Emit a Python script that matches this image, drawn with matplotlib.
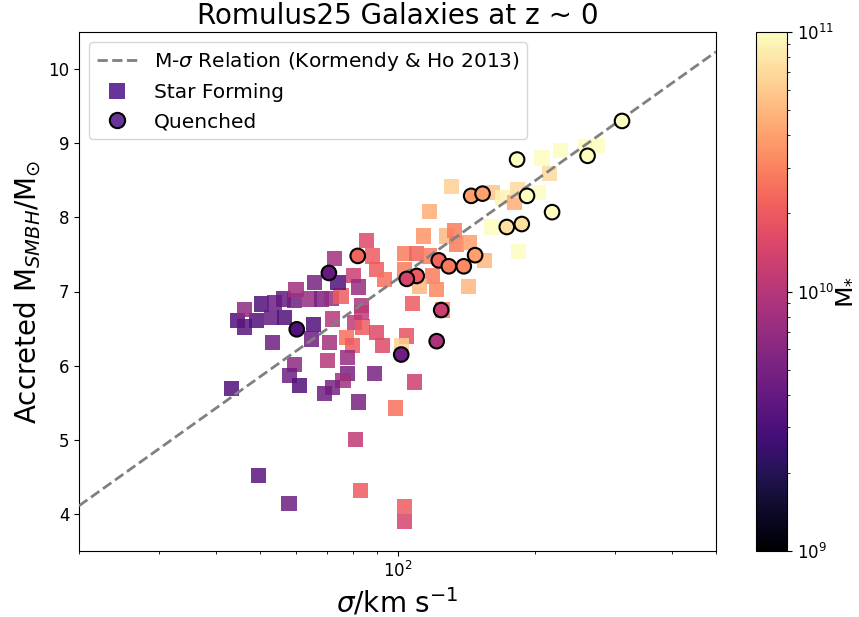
import numpy as np
import matplotlib
matplotlib.use("Agg")
import matplotlib.pyplot as plt
from matplotlib.colors import LogNorm
from matplotlib.lines import Line2D

# Star-forming galaxies: velocity dispersion (km/s), log accreted BH mass, log stellar mass
sf_sigma = [43.2, 49.6, 57.8, 80.8, 83.0, 103.8, 103.8, 98.8, 108.9,
            44.5, 46.2, 49.0, 46.2, 50.3, 52.8, 53.7, 56.1, 56.5, 59.4,
            64.1, 68.0, 71.6, 75.2, 65.5, 72.1, 53.1, 64.7, 71.0, 77.2,
            59.9, 65.8, 72.8, 74.0, 80.2, 82.2, 83.3, 80.5, 83.9, 89.8,
            92.8, 79.8, 70.2, 77.8, 59.4, 58.0, 61.0, 77.8, 75.9, 72.1,
            69.2, 82.2, 89.0, 83.3,
            85.4, 88.3, 89.8, 93.6,
            103.6, 109.9, 117.5, 103.6, 119.5, 121.6, 111.7, 108.0, 125.7,
            104.5, 101.9, 114.2, 127.9, 133.4, 134.5, 143.8, 155.1, 143.3,
            117.5, 131.2, 161.8, 170.2, 180.6, 183.7, 204.0, 215.4, 160.5,
            184.6, 207.6, 227.5, 259.2, 274.8]
sf_logmbh = [5.69, 4.52, 4.14, 5.00, 4.32, 4.10, 3.90, 5.43, 5.78,
             6.61, 6.52, 6.61, 6.76, 6.83, 6.65, 6.85, 6.90, 6.65, 6.88,
             6.90, 6.90, 6.91, 6.94, 6.56, 6.63, 6.31, 6.36, 6.31, 6.38,
             7.03, 7.12, 7.44, 7.12, 7.22, 7.06, 6.81, 6.58, 6.52, 6.45,
             6.27, 6.27, 6.07, 6.11, 6.02, 5.87, 5.73, 5.89, 5.80, 5.71,
             5.62, 5.51, 5.89, 6.72,
             7.69, 7.48, 7.30, 7.16,
             7.51, 7.51, 7.48, 7.30, 7.21, 7.03, 7.07, 6.84, 6.75,
             6.40, 6.27, 7.75, 7.75, 7.82, 7.64, 7.66, 7.42, 7.07,
             8.08, 8.42, 8.34, 8.27, 8.20, 8.37, 8.33, 8.59, 7.87,
             7.54, 8.80, 8.90, 8.95, 8.97]
sf_logmstar = [9.50, 9.55, 9.65, 10.05, 10.30, 10.30, 10.15, 10.40, 10.10,
               9.50, 9.55, 9.50, 9.80, 9.50, 9.60, 9.65, 9.60, 9.50, 9.65,
               9.85, 9.70, 9.85, 10.30, 9.50, 10.00, 9.65, 9.65, 9.90, 10.40,
               9.90, 9.70, 9.90, 9.50, 10.10, 9.85, 9.95, 10.05, 10.30, 10.20,
               10.20, 10.30, 10.00, 9.85, 9.80, 9.65, 9.50, 9.70, 9.90, 9.70,
               9.65, 9.70, 9.70, 10.05,
               10.20, 10.30, 10.30, 10.40,
               10.45, 10.35, 10.45, 10.45, 10.45, 10.50, 10.70, 10.30, 10.45,
               10.25, 10.80, 10.55, 10.70, 10.45, 10.45, 10.60, 10.70, 10.70,
               10.65, 10.80, 10.75, 10.95, 10.65, 10.85, 11.00, 10.85, 11.00,
               11.00, 11.00, 11.00, 11.00, 11.00]

# Quenched galaxies
q_sigma = [311.0, 261.3, 183.0, 192.4, 218.4, 173.7, 187.4, 145.1, 153.7,
           148.0, 123.2, 129.6, 139.8, 110.2, 104.8, 124.7, 121.9, 101.9,
           81.8, 70.7, 60.1]
q_logmbh = [9.30, 8.83, 8.78, 8.29, 8.07, 7.87, 7.91, 8.29, 8.32,
            7.49, 7.42, 7.34, 7.34, 7.21, 7.17, 6.75, 6.33, 6.15,
            7.48, 7.25, 6.49]
q_logmstar = [11.00, 11.00, 11.00, 11.00, 11.00, 10.87, 10.87, 10.60, 10.60,
              10.60, 10.35, 10.45, 10.50, 10.30, 10.15, 10.10, 9.95, 9.65,
              10.35, 9.60, 9.50]

# Kormendy & Ho (2013) M-sigma relation
kh_norm = 8.49
kh_slope = 4.38
kh_sigma0 = 200.0

fig = plt.figure(figsize=(8.59, 6.17), dpi=100)
ax = fig.add_axes([79 / 859, 66 / 617, 637 / 859, 519 / 617])
cax = fig.add_axes([756 / 859, 66 / 617, 31 / 859, 519 / 617])

norm = LogNorm(vmin=1e9, vmax=1e11)
cmap = "magma"

sc = ax.scatter(sf_sigma, sf_logmbh, c=10 ** np.array(sf_logmstar), cmap=cmap,
                norm=norm, marker="s", s=120, alpha=0.85, linewidths=0, zorder=2)

sig_line = np.logspace(np.log10(20), np.log10(500), 200)
ax.plot(sig_line, kh_norm + kh_slope * np.log10(sig_line / kh_sigma0),
        ls="--", color="gray", lw=2, zorder=3)

ax.scatter(q_sigma, q_logmbh, c=10 ** np.array(q_logmstar), cmap=cmap,
           norm=norm, marker="o", s=110, edgecolors="black", linewidths=1.5,
           zorder=4)

ax.set_xscale("log")
ax.set_xlim(20, 500)
ax.set_ylim(3.5, 10.5)
ax.set_yticks([4, 5, 6, 7, 8, 9, 10])
ax.tick_params(labelsize=12)

ax.set_title("Romulus25 Galaxies at z ~ 0", fontsize=20)
ax.set_xlabel(r"$\sigma$/km s$^{-1}$", fontsize=20)
ax.set_ylabel(r"Accreted M$_{SMBH}$/M$_{\odot}$", fontsize=20)

handles = [
    Line2D([], [], ls="--", color="gray", lw=2),
    Line2D([], [], ls="none", marker="s", markersize=11, color="#673499",
           markeredgewidth=0),
    Line2D([], [], ls="none", marker="o", markersize=11,
           markerfacecolor="#673499", markeredgecolor="black",
           markeredgewidth=1.5),
]
labels = [r"M-$\sigma$ Relation (Kormendy & Ho 2013)", "Star Forming", "Quenched"]
ax.legend(handles, labels, loc="upper left", fontsize=14.5)

cb = fig.colorbar(sc, cax=cax)
cb.solids.set_alpha(1)
cb.ax.tick_params(labelsize=12)
cb.set_label(r"M$_{*}$", fontsize=18, labelpad=-2)

fig.savefig("out.png", dpi=100)
